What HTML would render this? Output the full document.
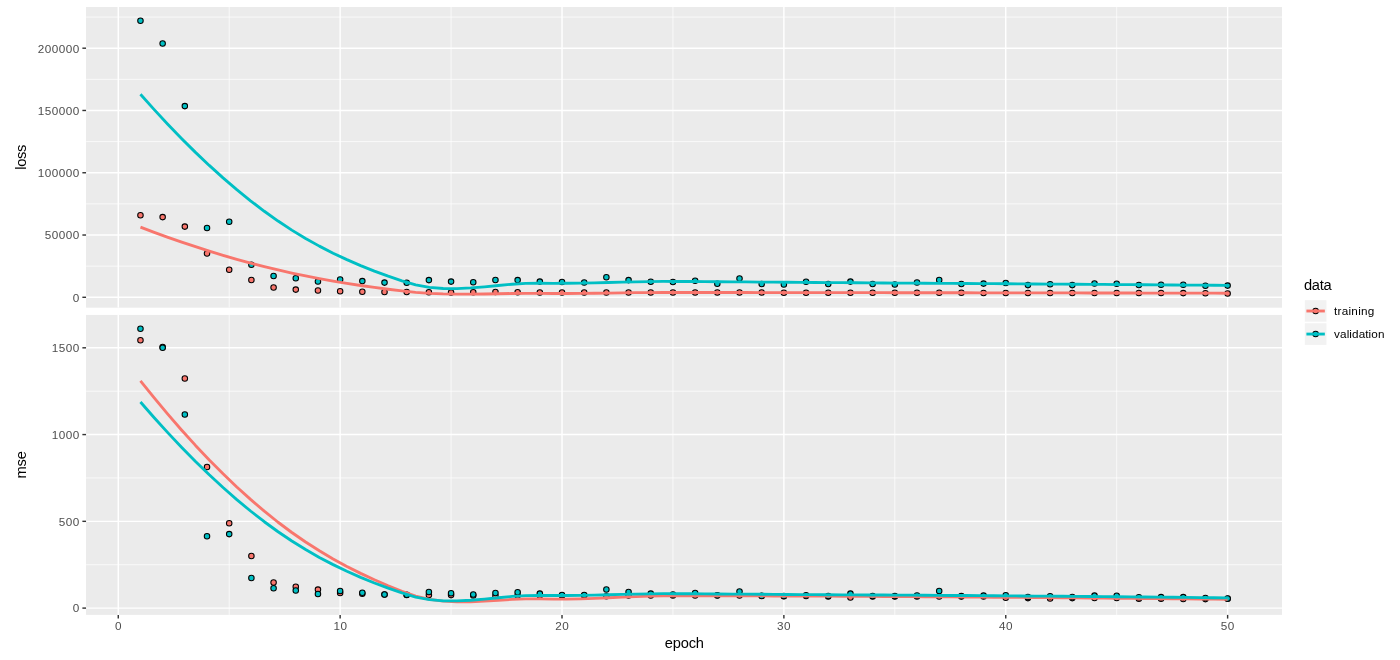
<!DOCTYPE html>
<html><head><meta charset="utf-8"><title>Training history</title>
<style>html,body{margin:0;padding:0;background:#fff;width:1400px;height:660px;overflow:hidden;font-family:"Liberation Sans",sans-serif}</style></head>
<body>
<svg width="1400" height="660" viewBox="0 0 1400 660" style="position:absolute;left:0;top:0;will-change:transform;font-family:'Liberation Sans',sans-serif">
<rect width="1400" height="660" fill="#fff"/>
<rect x="86.05" y="7.0" width="1195.95" height="300.70" fill="#EBEBEB"/>
<clipPath id="c1"><rect x="86.05" y="7.0" width="1195.95" height="300.70"/></clipPath>
<g clip-path="url(#c1)">
<g stroke="#fff" stroke-width="0.71" fill="none">
<line x1="86.05" x2="1282.0" y1="266.16" y2="266.16"/>
<line x1="86.05" x2="1282.0" y1="203.89" y2="203.89"/>
<line x1="86.05" x2="1282.0" y1="141.61" y2="141.61"/>
<line x1="86.05" x2="1282.0" y1="79.34" y2="79.34"/>
<line x1="86.05" x2="1282.0" y1="17.06" y2="17.06"/>
<line x1="229.20" x2="229.20" y1="7.0" y2="307.7"/>
<line x1="451.07" x2="451.07" y1="7.0" y2="307.7"/>
<line x1="672.95" x2="672.95" y1="7.0" y2="307.7"/>
<line x1="894.82" x2="894.82" y1="7.0" y2="307.7"/>
<line x1="1116.69" x2="1116.69" y1="7.0" y2="307.7"/>
</g>
<g stroke="#fff" stroke-width="1.42" fill="none">
<line x1="86.05" x2="1282.0" y1="297.30" y2="297.30"/>
<line x1="86.05" x2="1282.0" y1="235.03" y2="235.03"/>
<line x1="86.05" x2="1282.0" y1="172.75" y2="172.75"/>
<line x1="86.05" x2="1282.0" y1="110.47" y2="110.47"/>
<line x1="86.05" x2="1282.0" y1="48.20" y2="48.20"/>
<line x1="118.27" x2="118.27" y1="7.0" y2="307.7"/>
<line x1="340.14" x2="340.14" y1="7.0" y2="307.7"/>
<line x1="562.01" x2="562.01" y1="7.0" y2="307.7"/>
<line x1="783.88" x2="783.88" y1="7.0" y2="307.7"/>
<line x1="1005.75" x2="1005.75" y1="7.0" y2="307.7"/>
<line x1="1227.62" x2="1227.62" y1="7.0" y2="307.7"/>
</g>
<g stroke="#000" stroke-width="1.05">
<g fill="#F8766D">
<circle cx="140.46" cy="215.20" r="2.75"/>
<circle cx="162.64" cy="217.10" r="2.75"/>
<circle cx="184.83" cy="226.60" r="2.75"/>
<circle cx="207.02" cy="253.40" r="2.75"/>
<circle cx="229.20" cy="269.80" r="2.75"/>
<circle cx="251.39" cy="280.00" r="2.75"/>
<circle cx="273.58" cy="287.40" r="2.75"/>
<circle cx="295.77" cy="289.60" r="2.75"/>
<circle cx="317.95" cy="290.40" r="2.75"/>
<circle cx="340.14" cy="291.30" r="2.75"/>
<circle cx="362.33" cy="291.70" r="2.75"/>
<circle cx="384.51" cy="292.00" r="2.75"/>
<circle cx="406.70" cy="292.00" r="2.75"/>
<circle cx="428.89" cy="292.30" r="2.75"/>
<circle cx="451.07" cy="292.40" r="2.75"/>
<circle cx="473.26" cy="292.30" r="2.75"/>
<circle cx="495.45" cy="292.00" r="2.75"/>
<circle cx="517.64" cy="292.30" r="2.75"/>
<circle cx="539.82" cy="292.40" r="2.75"/>
<circle cx="562.01" cy="292.40" r="2.75"/>
<circle cx="584.20" cy="292.40" r="2.75"/>
<circle cx="606.38" cy="292.40" r="2.75"/>
<circle cx="628.57" cy="292.40" r="2.75"/>
<circle cx="650.76" cy="292.40" r="2.75"/>
<circle cx="672.95" cy="292.40" r="2.75"/>
<circle cx="695.13" cy="292.40" r="2.75"/>
<circle cx="717.32" cy="292.40" r="2.75"/>
<circle cx="739.51" cy="292.40" r="2.75"/>
<circle cx="761.69" cy="292.40" r="2.75"/>
<circle cx="783.88" cy="292.70" r="2.75"/>
<circle cx="806.07" cy="292.70" r="2.75"/>
<circle cx="828.25" cy="292.70" r="2.75"/>
<circle cx="850.44" cy="292.70" r="2.75"/>
<circle cx="872.63" cy="292.70" r="2.75"/>
<circle cx="894.82" cy="292.70" r="2.75"/>
<circle cx="917.00" cy="292.70" r="2.75"/>
<circle cx="939.19" cy="292.70" r="2.75"/>
<circle cx="961.38" cy="292.70" r="2.75"/>
<circle cx="983.56" cy="292.90" r="2.75"/>
<circle cx="1005.75" cy="292.90" r="2.75"/>
<circle cx="1027.94" cy="292.90" r="2.75"/>
<circle cx="1050.12" cy="292.90" r="2.75"/>
<circle cx="1072.31" cy="292.90" r="2.75"/>
<circle cx="1094.50" cy="292.90" r="2.75"/>
<circle cx="1116.69" cy="292.90" r="2.75"/>
<circle cx="1138.87" cy="292.90" r="2.75"/>
<circle cx="1161.06" cy="292.90" r="2.75"/>
<circle cx="1183.25" cy="293.10" r="2.75"/>
<circle cx="1205.43" cy="293.30" r="2.75"/>
<circle cx="1227.62" cy="293.40" r="2.75"/>
</g>
<g fill="#00BFC4">
<circle cx="140.46" cy="20.80" r="2.75"/>
<circle cx="162.64" cy="43.50" r="2.75"/>
<circle cx="184.83" cy="106.10" r="2.75"/>
<circle cx="207.02" cy="227.90" r="2.75"/>
<circle cx="229.20" cy="221.80" r="2.75"/>
<circle cx="251.39" cy="264.70" r="2.75"/>
<circle cx="273.58" cy="276.00" r="2.75"/>
<circle cx="295.77" cy="278.30" r="2.75"/>
<circle cx="317.95" cy="281.40" r="2.75"/>
<circle cx="340.14" cy="279.40" r="2.75"/>
<circle cx="362.33" cy="281.10" r="2.75"/>
<circle cx="384.51" cy="282.60" r="2.75"/>
<circle cx="406.70" cy="282.70" r="2.75"/>
<circle cx="428.89" cy="280.10" r="2.75"/>
<circle cx="451.07" cy="281.60" r="2.75"/>
<circle cx="473.26" cy="282.30" r="2.75"/>
<circle cx="495.45" cy="280.00" r="2.75"/>
<circle cx="517.64" cy="280.10" r="2.75"/>
<circle cx="539.82" cy="281.60" r="2.75"/>
<circle cx="562.01" cy="282.00" r="2.75"/>
<circle cx="584.20" cy="282.50" r="2.75"/>
<circle cx="606.38" cy="277.30" r="2.75"/>
<circle cx="628.57" cy="280.10" r="2.75"/>
<circle cx="650.76" cy="281.70" r="2.75"/>
<circle cx="672.95" cy="281.90" r="2.75"/>
<circle cx="695.13" cy="280.70" r="2.75"/>
<circle cx="717.32" cy="283.70" r="2.75"/>
<circle cx="739.51" cy="278.40" r="2.75"/>
<circle cx="761.69" cy="283.90" r="2.75"/>
<circle cx="783.88" cy="284.40" r="2.75"/>
<circle cx="806.07" cy="281.70" r="2.75"/>
<circle cx="828.25" cy="284.00" r="2.75"/>
<circle cx="850.44" cy="281.60" r="2.75"/>
<circle cx="872.63" cy="284.00" r="2.75"/>
<circle cx="894.82" cy="284.40" r="2.75"/>
<circle cx="917.00" cy="282.40" r="2.75"/>
<circle cx="939.19" cy="279.90" r="2.75"/>
<circle cx="961.38" cy="284.00" r="2.75"/>
<circle cx="983.56" cy="283.60" r="2.75"/>
<circle cx="1005.75" cy="283.00" r="2.75"/>
<circle cx="1027.94" cy="285.10" r="2.75"/>
<circle cx="1050.12" cy="284.30" r="2.75"/>
<circle cx="1072.31" cy="285.10" r="2.75"/>
<circle cx="1094.50" cy="283.40" r="2.75"/>
<circle cx="1116.69" cy="283.80" r="2.75"/>
<circle cx="1138.87" cy="285.00" r="2.75"/>
<circle cx="1161.06" cy="284.80" r="2.75"/>
<circle cx="1183.25" cy="284.70" r="2.75"/>
<circle cx="1205.43" cy="285.70" r="2.75"/>
<circle cx="1227.62" cy="285.60" r="2.75"/>
</g></g>
<path d="M140.46,227.20 L154.22,232.36 L167.98,237.34 L181.74,242.12 L195.50,246.71 L209.26,251.10 L223.03,255.30 L236.79,259.28 L250.55,263.06 L264.31,266.62 L278.07,269.97 L291.83,273.07 L305.60,275.95 L319.36,278.62 L333.12,281.08 L346.88,283.36 L360.64,285.47 L374.40,287.42 L388.17,289.23 L401.93,290.91 L415.69,292.38 L429.45,293.37 L443.21,293.95 L456.97,294.18 L470.73,294.17 L484.50,294.00 L498.26,293.74 L512.02,293.50 L525.78,293.34 L539.54,293.37 L553.30,293.46 L567.07,293.45 L580.83,293.36 L594.59,293.22 L608.35,293.05 L622.11,292.86 L635.87,292.69 L649.63,292.55 L663.40,292.47 L677.16,292.46 L690.92,292.48 L704.68,292.49 L718.44,292.51 L732.20,292.52 L745.97,292.54 L759.73,292.55 L773.49,292.56 L787.25,292.58 L801.01,292.59 L814.77,292.61 L828.53,292.62 L842.30,292.64 L856.06,292.65 L869.82,292.67 L883.58,292.68 L897.34,292.70 L911.10,292.71 L924.87,292.73 L938.63,292.75 L952.39,292.76 L966.15,292.78 L979.91,292.80 L993.67,292.82 L1007.44,292.84 L1021.20,292.86 L1034.96,292.88 L1048.72,292.90 L1062.48,292.92 L1076.24,292.94 L1090.00,292.96 L1103.77,292.99 L1117.53,293.01 L1131.29,293.03 L1145.05,293.06 L1158.81,293.08 L1172.57,293.10 L1186.34,293.13 L1200.10,293.15 L1213.86,293.18 L1227.62,293.21" fill="none" stroke="#F8766D" stroke-width="2.85" stroke-linejoin="round" stroke-linecap="butt"/>
<path d="M140.46,94.23 L154.22,109.63 L167.98,124.46 L181.74,138.71 L195.50,152.37 L209.26,165.42 L223.03,177.85 L236.79,189.64 L250.55,200.78 L264.31,211.26 L278.07,221.06 L291.83,230.11 L305.60,238.45 L319.36,246.12 L333.12,253.17 L346.88,259.64 L360.64,265.59 L374.40,271.07 L388.17,276.13 L401.93,280.80 L415.69,284.84 L429.45,287.35 L443.21,288.51 L456.97,288.61 L470.73,287.95 L484.50,286.81 L498.26,285.47 L512.02,284.22 L525.78,283.36 L539.54,283.16 L553.30,283.31 L567.07,283.28 L580.83,283.10 L594.59,282.81 L608.35,282.48 L622.11,282.12 L635.87,281.80 L649.63,281.55 L663.40,281.42 L677.16,281.45 L690.92,281.52 L704.68,281.61 L718.44,281.71 L732.20,281.82 L745.97,281.93 L759.73,282.05 L773.49,282.17 L787.25,282.28 L801.01,282.40 L814.77,282.50 L828.53,282.60 L842.30,282.69 L856.06,282.78 L869.82,282.87 L883.58,282.96 L897.34,283.05 L911.10,283.13 L924.87,283.22 L938.63,283.31 L952.39,283.40 L966.15,283.50 L979.91,283.59 L993.67,283.68 L1007.44,283.78 L1021.20,283.87 L1034.96,283.96 L1048.72,284.06 L1062.48,284.15 L1076.24,284.25 L1090.00,284.35 L1103.77,284.45 L1117.53,284.55 L1131.29,284.65 L1145.05,284.75 L1158.81,284.85 L1172.57,284.96 L1186.34,285.06 L1200.10,285.17 L1213.86,285.28 L1227.62,285.38" fill="none" stroke="#00BFC4" stroke-width="2.85" stroke-linejoin="round" stroke-linecap="butt"/>
</g>
<g stroke="#333" stroke-width="1.42">
<line x1="82.38" x2="86.05" y1="297.30" y2="297.30"/>
<line x1="82.38" x2="86.05" y1="235.03" y2="235.03"/>
<line x1="82.38" x2="86.05" y1="172.75" y2="172.75"/>
<line x1="82.38" x2="86.05" y1="110.47" y2="110.47"/>
<line x1="82.38" x2="86.05" y1="48.20" y2="48.20"/>
</g>
<g fill="#4D4D4D" font-size="11.73">
<text x="72.84" y="301.60">0</text>
<text x="44.84 51.84 58.84 65.84 72.84" y="239.33">50000</text>
<text x="37.84 44.84 51.84 58.84 65.84 72.84" y="177.05">100000</text>
<text x="37.84 44.84 51.84 58.84 65.84 72.84" y="114.77">150000</text>
<text x="37.84 44.84 51.84 58.84 65.84 72.84" y="52.50">200000</text>
</g>
<rect x="86.05" y="314.95" width="1195.95" height="299.95" fill="#EBEBEB"/>
<clipPath id="c2"><rect x="86.05" y="314.95" width="1195.95" height="299.95"/></clipPath>
<g clip-path="url(#c2)">
<g stroke="#fff" stroke-width="0.71" fill="none">
<line x1="86.05" x2="1282.0" y1="564.72" y2="564.72"/>
<line x1="86.05" x2="1282.0" y1="477.95" y2="477.95"/>
<line x1="86.05" x2="1282.0" y1="391.19" y2="391.19"/>
<line x1="229.20" x2="229.20" y1="314.95" y2="614.9"/>
<line x1="451.07" x2="451.07" y1="314.95" y2="614.9"/>
<line x1="672.95" x2="672.95" y1="314.95" y2="614.9"/>
<line x1="894.82" x2="894.82" y1="314.95" y2="614.9"/>
<line x1="1116.69" x2="1116.69" y1="314.95" y2="614.9"/>
</g>
<g stroke="#fff" stroke-width="1.42" fill="none">
<line x1="86.05" x2="1282.0" y1="608.10" y2="608.10"/>
<line x1="86.05" x2="1282.0" y1="521.34" y2="521.34"/>
<line x1="86.05" x2="1282.0" y1="434.57" y2="434.57"/>
<line x1="86.05" x2="1282.0" y1="347.81" y2="347.81"/>
<line x1="118.27" x2="118.27" y1="314.95" y2="614.9"/>
<line x1="340.14" x2="340.14" y1="314.95" y2="614.9"/>
<line x1="562.01" x2="562.01" y1="314.95" y2="614.9"/>
<line x1="783.88" x2="783.88" y1="314.95" y2="614.9"/>
<line x1="1005.75" x2="1005.75" y1="314.95" y2="614.9"/>
<line x1="1227.62" x2="1227.62" y1="314.95" y2="614.9"/>
</g>
<g stroke="#000" stroke-width="1.05">
<g fill="#F8766D">
<circle cx="140.46" cy="340.30" r="2.75"/>
<circle cx="162.64" cy="347.00" r="2.75"/>
<circle cx="184.83" cy="378.40" r="2.75"/>
<circle cx="207.02" cy="467.00" r="2.75"/>
<circle cx="229.20" cy="523.30" r="2.75"/>
<circle cx="251.39" cy="556.00" r="2.75"/>
<circle cx="273.58" cy="582.40" r="2.75"/>
<circle cx="295.77" cy="586.70" r="2.75"/>
<circle cx="317.95" cy="589.60" r="2.75"/>
<circle cx="340.14" cy="593.00" r="2.75"/>
<circle cx="362.33" cy="593.80" r="2.75"/>
<circle cx="384.51" cy="594.50" r="2.75"/>
<circle cx="406.70" cy="595.00" r="2.75"/>
<circle cx="428.89" cy="595.10" r="2.75"/>
<circle cx="451.07" cy="595.10" r="2.75"/>
<circle cx="473.26" cy="595.50" r="2.75"/>
<circle cx="495.45" cy="596.00" r="2.75"/>
<circle cx="517.64" cy="595.40" r="2.75"/>
<circle cx="539.82" cy="595.50" r="2.75"/>
<circle cx="562.01" cy="595.50" r="2.75"/>
<circle cx="584.20" cy="595.50" r="2.75"/>
<circle cx="606.38" cy="596.30" r="2.75"/>
<circle cx="628.57" cy="595.50" r="2.75"/>
<circle cx="650.76" cy="595.50" r="2.75"/>
<circle cx="672.95" cy="595.50" r="2.75"/>
<circle cx="695.13" cy="595.50" r="2.75"/>
<circle cx="717.32" cy="595.50" r="2.75"/>
<circle cx="739.51" cy="595.50" r="2.75"/>
<circle cx="761.69" cy="595.80" r="2.75"/>
<circle cx="783.88" cy="596.30" r="2.75"/>
<circle cx="806.07" cy="595.90" r="2.75"/>
<circle cx="828.25" cy="596.40" r="2.75"/>
<circle cx="850.44" cy="597.40" r="2.75"/>
<circle cx="872.63" cy="596.40" r="2.75"/>
<circle cx="894.82" cy="596.40" r="2.75"/>
<circle cx="917.00" cy="596.40" r="2.75"/>
<circle cx="939.19" cy="596.40" r="2.75"/>
<circle cx="961.38" cy="596.40" r="2.75"/>
<circle cx="983.56" cy="596.40" r="2.75"/>
<circle cx="1005.75" cy="597.70" r="2.75"/>
<circle cx="1027.94" cy="598.10" r="2.75"/>
<circle cx="1050.12" cy="598.40" r="2.75"/>
<circle cx="1072.31" cy="598.10" r="2.75"/>
<circle cx="1094.50" cy="597.90" r="2.75"/>
<circle cx="1116.69" cy="598.00" r="2.75"/>
<circle cx="1138.87" cy="598.70" r="2.75"/>
<circle cx="1161.06" cy="598.70" r="2.75"/>
<circle cx="1183.25" cy="598.90" r="2.75"/>
<circle cx="1205.43" cy="599.10" r="2.75"/>
<circle cx="1227.62" cy="598.80" r="2.75"/>
</g>
<g fill="#00BFC4">
<circle cx="140.46" cy="328.70" r="2.75"/>
<circle cx="162.64" cy="347.80" r="2.75"/>
<circle cx="184.83" cy="414.40" r="2.75"/>
<circle cx="207.02" cy="536.20" r="2.75"/>
<circle cx="229.20" cy="534.10" r="2.75"/>
<circle cx="251.39" cy="577.90" r="2.75"/>
<circle cx="273.58" cy="588.20" r="2.75"/>
<circle cx="295.77" cy="590.40" r="2.75"/>
<circle cx="317.95" cy="593.90" r="2.75"/>
<circle cx="340.14" cy="590.90" r="2.75"/>
<circle cx="362.33" cy="592.80" r="2.75"/>
<circle cx="384.51" cy="594.50" r="2.75"/>
<circle cx="406.70" cy="594.70" r="2.75"/>
<circle cx="428.89" cy="591.90" r="2.75"/>
<circle cx="451.07" cy="593.30" r="2.75"/>
<circle cx="473.26" cy="594.40" r="2.75"/>
<circle cx="495.45" cy="592.90" r="2.75"/>
<circle cx="517.64" cy="592.30" r="2.75"/>
<circle cx="539.82" cy="593.60" r="2.75"/>
<circle cx="562.01" cy="594.90" r="2.75"/>
<circle cx="584.20" cy="595.00" r="2.75"/>
<circle cx="606.38" cy="589.40" r="2.75"/>
<circle cx="628.57" cy="591.90" r="2.75"/>
<circle cx="650.76" cy="593.60" r="2.75"/>
<circle cx="672.95" cy="594.50" r="2.75"/>
<circle cx="695.13" cy="592.90" r="2.75"/>
<circle cx="717.32" cy="595.20" r="2.75"/>
<circle cx="739.51" cy="591.40" r="2.75"/>
<circle cx="761.69" cy="595.90" r="2.75"/>
<circle cx="783.88" cy="595.90" r="2.75"/>
<circle cx="806.07" cy="595.20" r="2.75"/>
<circle cx="828.25" cy="596.00" r="2.75"/>
<circle cx="850.44" cy="593.60" r="2.75"/>
<circle cx="872.63" cy="596.00" r="2.75"/>
<circle cx="894.82" cy="596.10" r="2.75"/>
<circle cx="917.00" cy="595.50" r="2.75"/>
<circle cx="939.19" cy="590.90" r="2.75"/>
<circle cx="961.38" cy="596.10" r="2.75"/>
<circle cx="983.56" cy="595.60" r="2.75"/>
<circle cx="1005.75" cy="595.20" r="2.75"/>
<circle cx="1027.94" cy="597.00" r="2.75"/>
<circle cx="1050.12" cy="596.20" r="2.75"/>
<circle cx="1072.31" cy="597.00" r="2.75"/>
<circle cx="1094.50" cy="595.60" r="2.75"/>
<circle cx="1116.69" cy="595.80" r="2.75"/>
<circle cx="1138.87" cy="597.20" r="2.75"/>
<circle cx="1161.06" cy="597.10" r="2.75"/>
<circle cx="1183.25" cy="597.10" r="2.75"/>
<circle cx="1205.43" cy="598.00" r="2.75"/>
<circle cx="1227.62" cy="598.50" r="2.75"/>
</g></g>
<path d="M140.46,380.90 L154.22,397.96 L167.98,414.40 L181.74,430.22 L195.50,445.40 L209.26,459.92 L223.03,473.77 L236.79,486.95 L250.55,499.42 L264.31,511.19 L278.07,522.24 L291.83,532.50 L305.60,542.00 L319.36,550.79 L333.12,558.92 L346.88,566.43 L360.64,573.37 L374.40,579.79 L388.17,585.74 L401.93,591.26 L415.69,596.10 L429.45,599.34 L443.21,601.19 L456.97,601.92 L470.73,601.83 L484.50,601.19 L498.26,600.30 L512.02,599.43 L525.78,598.87 L539.54,598.92 L553.30,599.19 L567.07,599.14 L580.83,598.84 L594.59,598.36 L608.35,597.77 L622.11,597.14 L635.87,596.56 L649.63,596.10 L663.40,595.82 L677.16,595.79 L690.92,595.83 L704.68,595.85 L718.44,595.88 L732.20,595.90 L745.97,595.92 L759.73,595.94 L773.49,595.97 L787.25,596.00 L801.01,596.04 L814.77,596.09 L828.53,596.15 L842.30,596.22 L856.06,596.30 L869.82,596.38 L883.58,596.47 L897.34,596.56 L911.10,596.65 L924.87,596.74 L938.63,596.84 L952.39,596.93 L966.15,597.03 L979.91,597.13 L993.67,597.22 L1007.44,597.33 L1021.20,597.43 L1034.96,597.54 L1048.72,597.65 L1062.48,597.76 L1076.24,597.88 L1090.00,597.99 L1103.77,598.11 L1117.53,598.23 L1131.29,598.35 L1145.05,598.48 L1158.81,598.61 L1172.57,598.73 L1186.34,598.87 L1200.10,599.00 L1213.86,599.14 L1227.62,599.28" fill="none" stroke="#F8766D" stroke-width="2.85" stroke-linejoin="round" stroke-linecap="butt"/>
<path d="M140.46,401.95 L154.22,417.71 L167.98,432.89 L181.74,447.48 L195.50,461.45 L209.26,474.81 L223.03,487.53 L236.79,499.60 L250.55,511.00 L264.31,521.73 L278.07,531.75 L291.83,541.02 L305.60,549.56 L319.36,557.41 L333.12,564.62 L346.88,571.26 L360.64,577.35 L374.40,582.96 L388.17,588.14 L401.93,592.93 L415.69,597.07 L429.45,599.63 L443.21,600.82 L456.97,600.93 L470.73,600.26 L484.50,599.09 L498.26,597.72 L512.02,596.45 L525.78,595.57 L539.54,595.37 L553.30,595.53 L567.07,595.50 L580.83,595.33 L594.59,595.06 L608.35,594.73 L622.11,594.38 L635.87,594.07 L649.63,593.82 L663.40,593.69 L677.16,593.71 L690.92,593.79 L704.68,593.87 L718.44,593.95 L732.20,594.05 L745.97,594.15 L759.73,594.25 L773.49,594.35 L787.25,594.45 L801.01,594.55 L814.77,594.64 L828.53,594.73 L842.30,594.81 L856.06,594.89 L869.82,594.97 L883.58,595.04 L897.34,595.11 L911.10,595.19 L924.87,595.27 L938.63,595.35 L952.39,595.45 L966.15,595.54 L979.91,595.64 L993.67,595.74 L1007.44,595.85 L1021.20,595.95 L1034.96,596.05 L1048.72,596.16 L1062.48,596.27 L1076.24,596.39 L1090.00,596.50 L1103.77,596.63 L1117.53,596.75 L1131.29,596.88 L1145.05,597.01 L1158.81,597.15 L1172.57,597.28 L1186.34,597.43 L1200.10,597.57 L1213.86,597.72 L1227.62,597.86" fill="none" stroke="#00BFC4" stroke-width="2.85" stroke-linejoin="round" stroke-linecap="butt"/>
</g>
<g stroke="#333" stroke-width="1.42">
<line x1="82.38" x2="86.05" y1="608.10" y2="608.10"/>
<line x1="82.38" x2="86.05" y1="521.34" y2="521.34"/>
<line x1="82.38" x2="86.05" y1="434.57" y2="434.57"/>
<line x1="82.38" x2="86.05" y1="347.81" y2="347.81"/>
</g>
<g fill="#4D4D4D" font-size="11.73">
<text x="72.84" y="612.40">0</text>
<text x="58.84 65.84 72.84" y="525.63">500</text>
<text x="51.84 58.84 65.84 72.84" y="438.87">1000</text>
<text x="51.84 58.84 65.84 72.84" y="352.11">1500</text>
</g>
<g stroke="#333" stroke-width="1.42">
<line x1="118.27" x2="118.27" y1="614.9" y2="618.57"/>
<line x1="340.14" x2="340.14" y1="614.9" y2="618.57"/>
<line x1="562.01" x2="562.01" y1="614.9" y2="618.57"/>
<line x1="783.88" x2="783.88" y1="614.9" y2="618.57"/>
<line x1="1005.75" x2="1005.75" y1="614.9" y2="618.57"/>
<line x1="1227.62" x2="1227.62" y1="614.9" y2="618.57"/>
</g>
<g fill="#4D4D4D" font-size="11.73">
<text x="115.01" y="630.15">0</text>
<text x="333.38 340.38" y="630.15">10</text>
<text x="555.25 562.25" y="630.15">20</text>
<text x="777.12 784.12" y="630.15">30</text>
<text x="998.99 1005.99" y="630.15">40</text>
<text x="1220.86 1227.86" y="630.15">50</text>
</g>
<text x="684.27" y="648.4" font-size="14.67" text-anchor="middle" letter-spacing="-0.15" fill="#000">epoch</text>
<text transform="translate(26,157.35) rotate(-90)" font-size="14.67" text-anchor="middle" letter-spacing="-0.27" fill="#000">loss</text>
<text transform="translate(26,464.92) rotate(-90)" font-size="14.67" text-anchor="middle" letter-spacing="-0.25" fill="#000">mse</text>
<text x="1304.0" y="289.8" font-size="14.67" letter-spacing="-0.3" fill="#000">data</text>
<rect x="1304.1" y="299.50" width="23.04" height="23.04" fill="#F2F2F2" stroke="#fff" stroke-width="1.42"/>
<circle cx="1315.62" cy="311.02" r="2.75" fill="#F8766D" stroke="#000" stroke-width="1.05"/>
<line x1="1306.40" x2="1324.84" y1="311.02" y2="311.02" stroke="#F8766D" stroke-width="2.85"/>
<text x="1334.1" y="315.22" font-size="11.73" letter-spacing="0.25" fill="#000">training</text>
<rect x="1304.1" y="322.54" width="23.04" height="23.04" fill="#F2F2F2" stroke="#fff" stroke-width="1.42"/>
<circle cx="1315.62" cy="334.06" r="2.75" fill="#00BFC4" stroke="#000" stroke-width="1.05"/>
<line x1="1306.40" x2="1324.84" y1="334.06" y2="334.06" stroke="#00BFC4" stroke-width="2.85"/>
<text x="1334.1" y="338.26" font-size="11.73" letter-spacing="0.09" fill="#000">validation</text>
</svg>
</body></html>
